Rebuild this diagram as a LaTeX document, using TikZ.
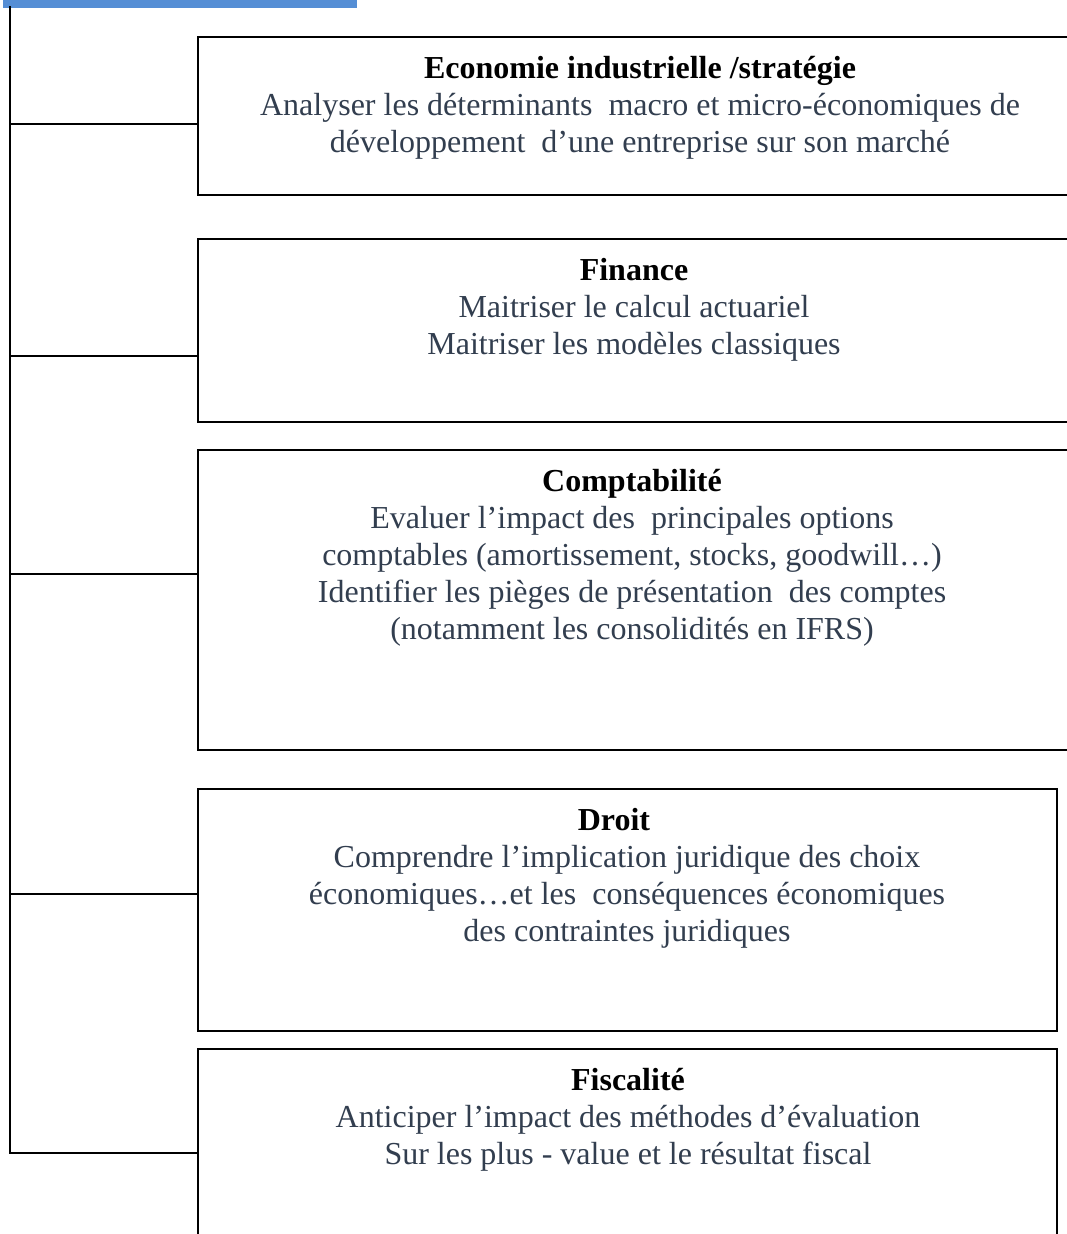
\documentclass[tikz,border=0pt]{standalone}
\usepackage{fontspec}
\setmainfont{Liberation Serif}
\definecolor{bodytext}{RGB}{50,62,79}
\definecolor{barblue}{RGB}{85,142,213}
\begin{document}
\begin{tikzpicture}[x=1pt,y=-1pt,
  topicbox/.style={draw=black, line width=1.6pt, rectangle, inner sep=0pt, outer sep=0pt, anchor=north west},
  topictext/.style={anchor=north, inner sep=0pt, align=center, text=bodytext,
    font=\fontsize{32}{36.8}\selectfont},
  link/.style={draw=black, line width=1.6pt}]
\useasboundingbox (0,0) rectangle (1066,1234);
\fill[white] (0,0) rectangle (1066,1234);

% header bar
\fill[barblue] (3,0) rectangle (357,8);

% topic boxes
\node[topicbox, minimum width=890pt, minimum height=158pt] (eco)  at (198,37)   {};
\node[topicbox, minimum width=890pt, minimum height=183pt] (fin)  at (198,239)  {};
\node[topicbox, minimum width=890pt, minimum height=300pt] (cpt)  at (198,450)  {};
\node[topicbox, minimum width=859pt, minimum height=242pt] (dro)  at (198,789)  {};
\node[topicbox, minimum width=859pt, minimum height=240pt] (fis)  at (198,1049) {};

% texts
\node[topictext] (ecot) at (640,53) {\strut\textcolor{black}{\textbf{Economie industrielle /stratégie}}\\
  Analyser les déterminants\ \ macro et micro-économiques de\\
  développement\ \ d’une entreprise sur son marché};
\node[topictext] (fint) at (634,255) {\strut\textcolor{black}{\textbf{Finance}}\\
  Maitriser le calcul actuariel\\
  Maitriser les modèles classiques};
\node[topictext] (cptt) at (632,466) {\strut\textcolor{black}{\textbf{Comptabilité}}\\
  Evaluer l’impact des\ \ principales options\hspace*{24pt}\\
  comptables (amortissement, stocks, goodwill…)\\
  Identifier les pièges de présentation\ \ des comptes\\
  (notamment les consolidités en IFRS)};
\node[topictext] (drot) at (627,805) {\strut\textcolor{black}{\textbf{Droit}}\hspace*{26pt}\\
  Comprendre l’implication juridique des choix\hspace*{28pt}\\
  économiques…et les\ \ conséquences économiques\\
  des contraintes juridiques};
\node[topictext] (fist) at (628,1065) {\strut\textcolor{black}{\textbf{Fiscalité}}\\
  Anticiper l’impact des méthodes d’évaluation\hspace*{28pt}\\
  Sur les plus - value et le résultat fiscal};

% trunk and branches
\coordinate (top) at (10,6);
\coordinate (j1) at (10,124);
\coordinate (j2) at (10,356);
\coordinate (j3) at (10,574);
\coordinate (j4) at (10,894);
\coordinate (j5) at (10,1153);
\draw[link] (top) -- (j5) -- (j5 -| fis.west);
\draw[link] (j1) -- (j1 -| eco.west);
\draw[link] (j2) -- (j2 -| fin.west);
\draw[link] (j3) -- (j3 -| cpt.west);
\draw[link] (j4) -- (j4 -| dro.west);
\end{tikzpicture}
\end{document}
